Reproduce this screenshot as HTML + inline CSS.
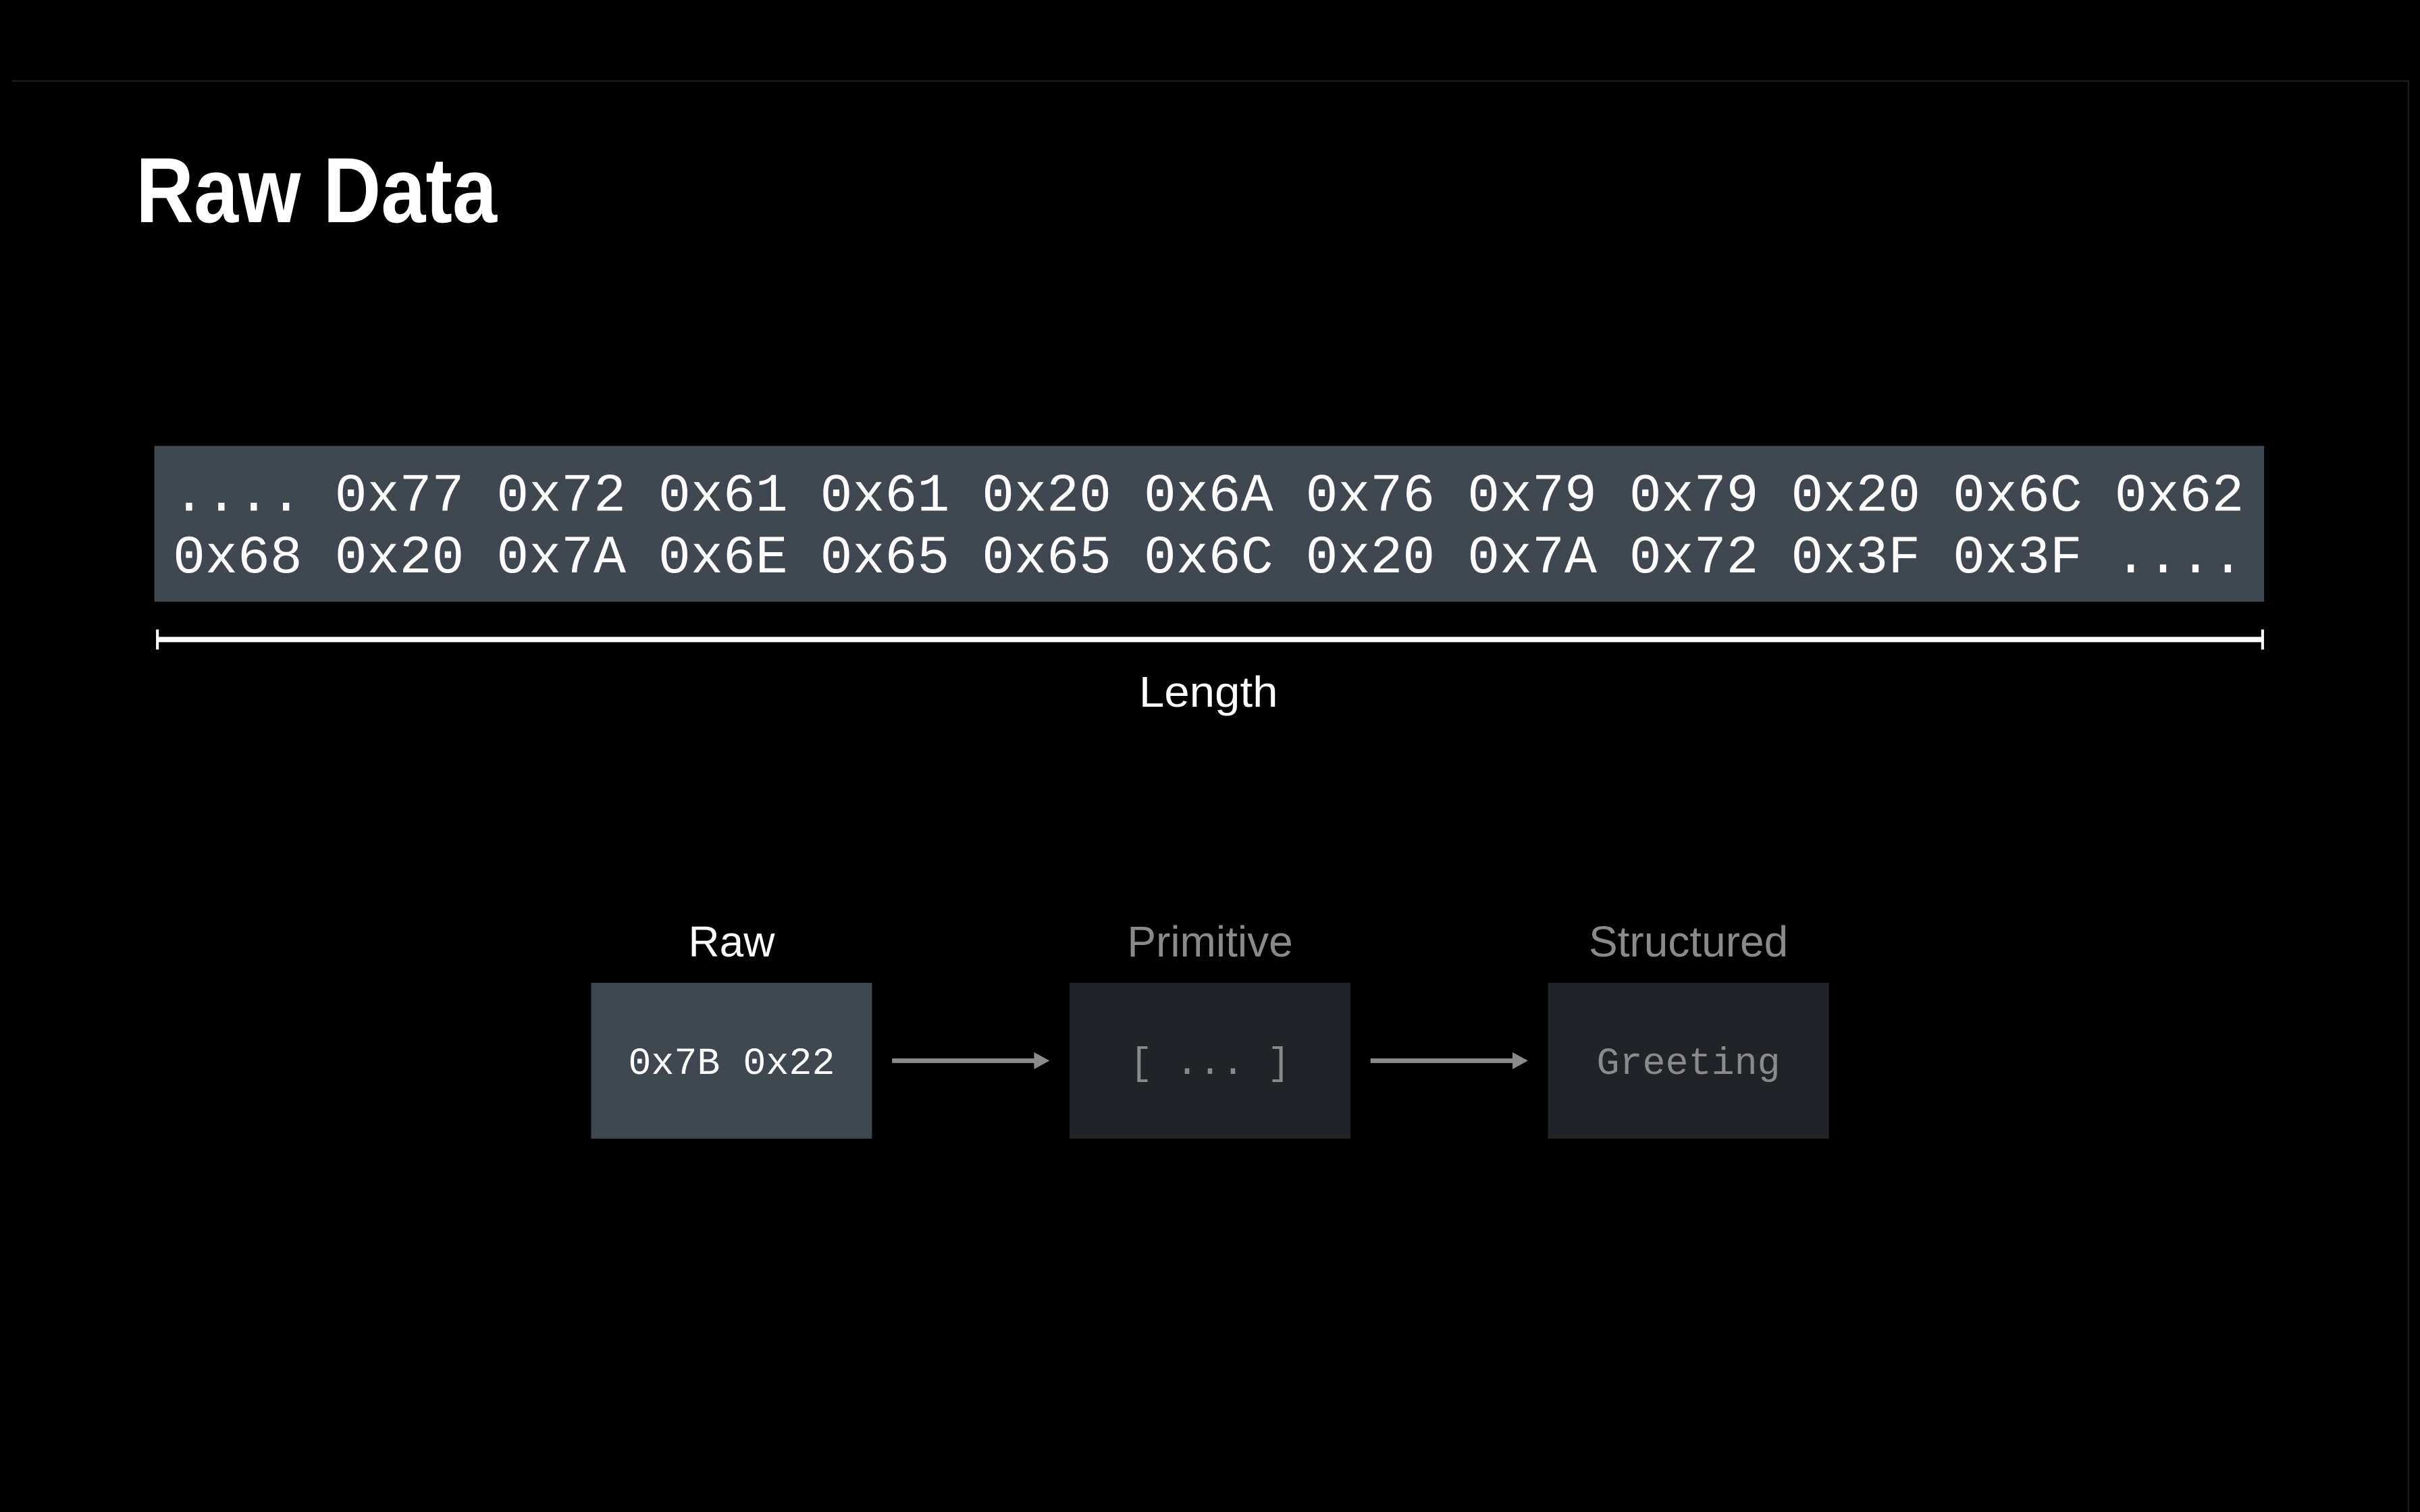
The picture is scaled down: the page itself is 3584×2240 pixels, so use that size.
<!DOCTYPE html>
<html><head><meta charset="utf-8"><style>
html,body{margin:0;padding:0;background:#000;}
svg{display:block;}
</style></head><body>
<svg id="s" width="3584" height="2240" viewBox="0 0 1568 980" xmlns="http://www.w3.org/2000/svg">
<rect x="0" y="0" width="1568" height="980" fill="#000"/>
<line x1="8" y1="52.5" x2="1561" y2="52.5" stroke="#1c1c1c" stroke-width="1"/>
<line x1="1560.5" y1="52" x2="1560.5" y2="980" stroke="#1c1c1c" stroke-width="1"/>
<text x="88" y="144" fill="#fff" font-family="Liberation Sans, sans-serif" font-weight="bold" font-size="60" textLength="234" lengthAdjust="spacingAndGlyphs">Raw Data</text>
<rect x="100" y="289" width="1367" height="101" fill="#3f4750"/>
<g id="hex"></g>
<g>
<line x1="102" y1="414.5" x2="1466" y2="414.5" stroke="#fff" stroke-width="3.4"/>
<line x1="102" y1="408" x2="102" y2="421" stroke="#fff" stroke-width="1.8"/>
<line x1="1466" y1="408" x2="1466" y2="421" stroke="#fff" stroke-width="1.8"/>
</g>
<text x="783" y="458" fill="#fff" font-family="Liberation Sans, sans-serif" font-size="28" text-anchor="middle" textLength="90" lengthAdjust="spacingAndGlyphs">Length</text>
<g id="stages"></g>
</svg>
<script>
const hexLine1 = ['....','0x77','0x72','0x61','0x61','0x20','0x6A','0x76','0x79','0x79','0x20','0x6C','0x62'];
const hexLine2 = ['0x68','0x20','0x7A','0x6E','0x65','0x65','0x6C','0x20','0x7A','0x72','0x3F','0x3F','....'];
const stageNames = ['Raw','Primitive','Structured'];
const stageContents = ['0x7B 0x22','[ ... ]','Greeting'];
const stageActive = [true,false,false];

const NS='http://www.w3.org/2000/svg';
const hexG=document.getElementById('hex');
[hexLine1,hexLine2].forEach((line,i)=>{
  const t=document.createElementNS(NS,'text');
  
  
  t.setAttribute('x',112);
  t.setAttribute('y',331+i*40);
  t.setAttribute('fill','#fff');
  t.setAttribute('font-family','Liberation Mono, monospace');
  t.setAttribute('font-size','35');
  const s=line.join(' ');
  t.setAttribute('textLength',s.length*21-2);
  t.setAttribute('lengthAdjust','spacing');
  t.textContent=s;
  hexG.appendChild(t);
});
const stG=document.getElementById('stages');
const x0=383, step=310, bw=182, by=637, bh=101;
stageNames.forEach((name,i)=>{
  const x=x0+i*step, cx=x+bw/2;
  const lab=document.createElementNS(NS,'text');
  
  
  lab.setAttribute('x',cx);lab.setAttribute('y',620);
  lab.setAttribute('text-anchor','middle');
  lab.setAttribute('fill',stageActive[i]?'#fff':'#8a8a8a');
  lab.setAttribute('font-family','Liberation Sans, sans-serif');
  lab.setAttribute('font-size','28');
  lab.textContent=name;
  stG.appendChild(lab);
  const r=document.createElementNS(NS,'rect');
  
  
  r.setAttribute('x',x);r.setAttribute('y',by);r.setAttribute('width',bw);r.setAttribute('height',bh);
  r.setAttribute('fill',stageActive[i]?'#3f4750':'#202328');
  stG.appendChild(r);
  const c=document.createElementNS(NS,'text');
  
  
  c.setAttribute('x',cx);c.setAttribute('y',696);
  c.setAttribute('text-anchor','middle');
  c.setAttribute('fill',stageActive[i]?'#fff':'#8a8a8a');
  c.setAttribute('font-family','Liberation Mono, monospace');
  c.setAttribute('font-size','24.8');
  c.textContent=stageContents[i];
  stG.appendChild(c);
  if(i<stageNames.length-1){
    const ax1=x+bw+13, ax2=x+step-13;
    const l=document.createElementNS(NS,'line');
    
    
    l.setAttribute('x1',ax1);l.setAttribute('y1',687.5);l.setAttribute('x2',ax2-8);l.setAttribute('y2',687.5);
    l.setAttribute('stroke','#8a8a8a');l.setAttribute('stroke-width','3');
    stG.appendChild(l);
    const p=document.createElementNS(NS,'polygon');
    
    
    p.setAttribute('points',(ax2-10)+',682 '+ax2+',687.5 '+(ax2-10)+',693');
    p.setAttribute('fill','#8a8a8a');
    stG.appendChild(p);
  }
});
</script>
</body></html>
